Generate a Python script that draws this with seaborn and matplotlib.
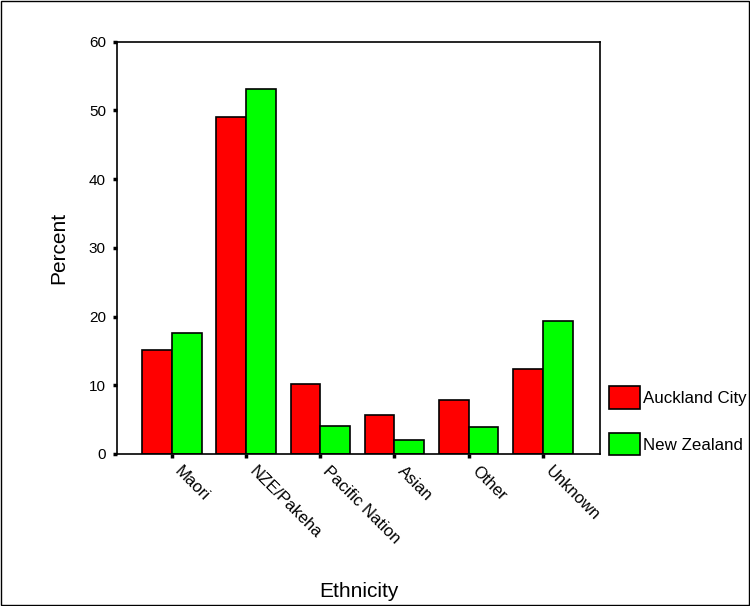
import matplotlib
matplotlib.use("Agg")
import matplotlib.pyplot as plt
import seaborn as sns
import pandas as pd
from matplotlib.patches import Patch, Rectangle

categories = ["Maori", "NZE/Pakeha", "Pacific Nation", "Asian", "Other", "Unknown"]
auckland = [15.1, 49.0, 10.2, 5.7, 7.8, 12.4]
new_zealand = [17.6, 53.1, 4.1, 2.0, 3.9, 19.3]
series = ["Auckland City", "New Zealand"]
colors = {"Auckland City": "#ff0000", "New Zealand": "#00ff00"}

df = pd.DataFrame({
    "Ethnicity": categories * 2,
    "Percent": auckland + new_zealand,
    "Area": [series[0]] * len(categories) + [series[1]] * len(categories),
})

sns.set_style("white")
plt.rcParams["font.family"] = ["Liberation Sans", "DejaVu Sans"]
plt.rcParams.update({"text.color": "black", "axes.labelcolor": "black",
                     "xtick.color": "black", "ytick.color": "black"})

fig = plt.figure(figsize=(7.5, 6.06), dpi=100)
ax = fig.add_axes([0.156, 0.251, 0.644, 0.68])

sns.barplot(data=df, x="Ethnicity", y="Percent", hue="Area", palette=colors,
            order=categories, hue_order=series, width=0.8, edgecolor="black",
            linewidth=1.2, saturation=1, ax=ax, legend=False)

ax.set_xlim(-0.74, 5.77)
ax.set_ylim(0, 60)
ax.set_yticks([0, 10, 20, 30, 40, 50, 60])
for s in ax.spines.values():
    s.set_color("black")
    s.set_linewidth(1.2)

ax.tick_params(axis="both", direction="out", length=3, width=2.5, colors="black",
               labelsize=11, pad=5, bottom=True, left=True)
ax.set_xticks(range(len(categories)))
ax.set_xticklabels(categories, rotation=-45, ha="left", va="top", fontsize=12)
ax.tick_params(axis="x", pad=4)

ax.set_xlabel("Ethnicity", fontsize=15)
ax.set_ylabel("Percent", fontsize=15)
ax.xaxis.set_label_coords(0.5, -0.31)
ax.yaxis.set_label_coords(-0.1, 0.5)

handles = [Patch(facecolor=colors[s], edgecolor="black", linewidth=1.2) for s in series]
fig.legend(handles, series, loc="upper left", bbox_to_anchor=(609 / 750, 1 - 386 / 606),
           frameon=False, fontsize=12.2, handlelength=1.83, handleheight=1.7,
           labelspacing=1.4, handletextpad=0.2, borderpad=0, borderaxespad=0)

fig.patches.append(Rectangle((0.001, 0.001), 0.997, 0.997, transform=fig.transFigure,
                             fill=False, edgecolor="black", linewidth=1))

fig.savefig("out.png", dpi=100)
